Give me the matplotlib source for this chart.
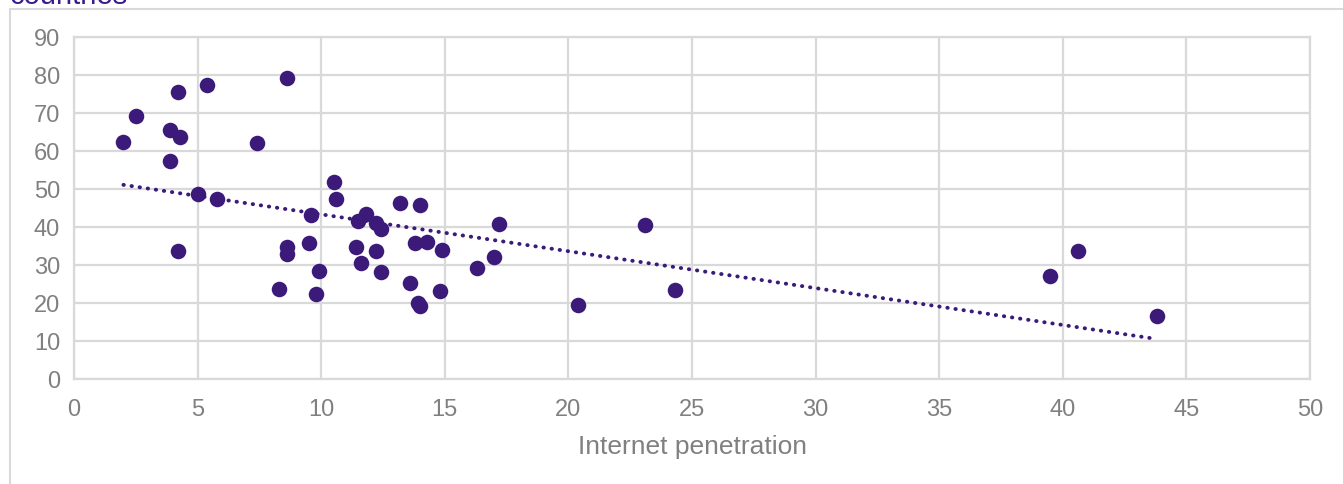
import matplotlib.pyplot as plt
import numpy as np
from matplotlib.patches import Rectangle

plt.rcParams['font.family'] = ['Liberation Sans', 'DejaVu Sans']

# Data: internet penetration vs. y value per country
internet = [
    2.0, 2.5, 4.2, 5.4, 8.6, 3.9, 4.3, 3.9, 7.4, 5.0, 5.8, 4.2,
    10.5, 10.6, 9.6, 9.5, 8.6, 8.6, 8.3, 9.9, 9.8,
    11.5, 11.8, 12.2, 12.4, 13.2, 14.0, 17.2, 11.4, 12.2, 13.8, 14.3, 14.9,
    11.6, 12.4, 16.3, 17.0, 13.6, 14.8, 13.9, 14.0,
    20.4, 23.1, 24.3, 39.5, 40.6, 43.8,
]
values = [
    62.4, 69.2, 75.6, 77.4, 79.3, 65.5, 63.7, 57.4, 62.0, 48.7, 47.4, 33.6,
    51.8, 47.3, 43.1, 35.7, 34.7, 32.8, 23.6, 28.5, 22.5,
    41.6, 43.3, 41.1, 39.6, 46.3, 45.9, 40.9, 34.8, 33.7, 35.8, 36.0, 34.0,
    30.4, 28.2, 29.1, 32.2, 25.2, 23.2, 20.1, 19.3,
    19.4, 40.6, 23.3, 27.1, 33.8, 16.6,
]

purple = '#3b1a7a'
grid_col = '#d9d9d9'
text_col = '#808080'

fig = plt.figure(figsize = (13.43, 4.85), dpi = 100)

# chart area frame (cut off at right / bottom like the source)
fig.patches.append(Rectangle((9.5 / 1343, -0.1), 1.2, (485 - 10) / 485 + 0.1,
                             transform = fig.transFigure, fill = False,
                             edgecolor = grid_col, linewidth = 1.5))

# title, mostly cropped away at the top
fig.text(10 / 1343, 1 - 3.5 / 485, 'countries', color = '#3a1c8c', fontsize = 21,
         va = 'baseline', ha = 'left')

ax = fig.add_axes([74 / 1343, (485 - 380) / 485, 1236 / 1343, 342 / 485])

ax.scatter(internet, values, s = 125, color = purple, linewidth = 0, zorder = 3)

# linear trendline
coef = np.polyfit(internet, values, 1)
xs = np.array([min(internet), max(internet)])
ax.plot(xs, np.polyval(coef, xs), color = purple, linewidth = 2.8,
        linestyle = (0, (0.1, 2.0)), dash_capstyle = 'round', zorder = 2)

ax.set_xlim(0, 50)
ax.set_ylim(0, 90)
ax.set_xticks(np.arange(0, 51, 5))
ax.set_yticks(np.arange(0, 91, 10))

ax.set_axisbelow(True)
ax.grid(True, color = grid_col, linewidth = 1.6)
for sp in ax.spines.values():
    sp.set_color(grid_col)
    sp.set_linewidth(1.6)

ax.tick_params(length = 0, labelsize = 17, labelcolor = text_col)
ax.tick_params(axis = 'x', pad = 14)
ax.tick_params(axis = 'y', pad = 10)
ax.set_xlabel('Internet penetration', fontsize = 19, color = text_col, labelpad = 10)

fig.savefig('out.png', dpi = 100)
